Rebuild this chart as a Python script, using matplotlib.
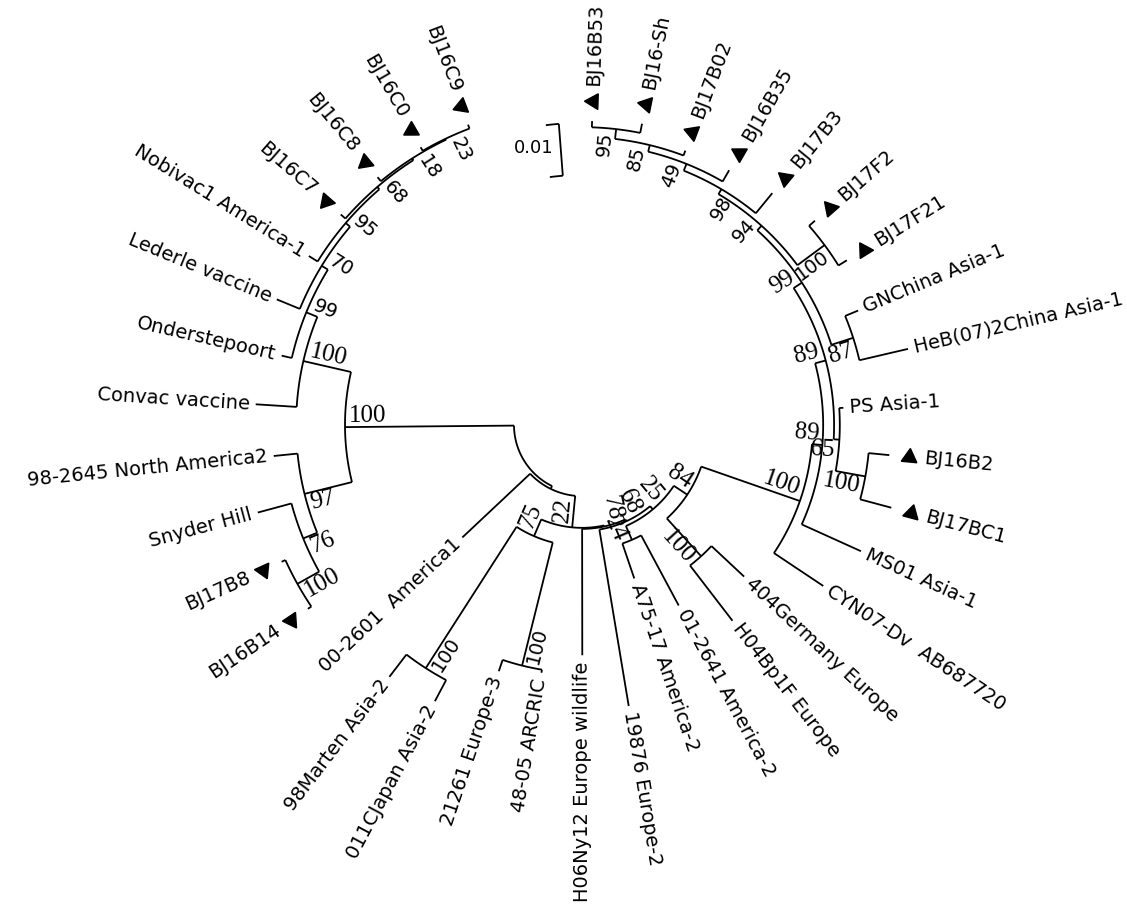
import numpy as np
import matplotlib
matplotlib.use("Agg")
import matplotlib.pyplot as plt

# ---------------- data ----------------
leaf_names = [
    "BJ16B53", "BJ16-Sh", "BJ17B02", "BJ16B35", "BJ17B3", "BJ17F2", "BJ17F21",
    "GNChina Asia-1", "HeB(07)2China Asia-1", "PS Asia-1", "BJ16B2", "BJ17BC1",
    "MS01 Asia-1", "CYN07-Dv  AB687720", "404Germany Europe", "H04Bp1F Europe",
    "01-2641 America-2", "A75-17 America-2", "19876 Europe-2",
    "H06Ny12 Europe wildlife", "48-05 ARCRIC", "21261 Europe-3",
    "011CJapan Asia-2", "98Marten Asia-2", "00-2601  America1", "BJ16B14",
    "BJ17B8", "Snyder Hill", "98-2645 North America2", "Convac vaccine",
    "Onderstepoort", "Lederle vaccine", "Nobivac1 America-1", "BJ16C7",
    "BJ16C8", "BJ16C0", "BJ16C9",
]
# distance of each tip from the root (substitutions/site)
leaf_dist = [
    0.0454, 0.0460, 0.0433, 0.0435, 0.0446, 0.0465, 0.0469,
    0.0444, 0.0513, 0.0373, 0.0463, 0.0485,
    0.0458, 0.0427, 0.0296, 0.0344,
    0.0263, 0.0181, 0.0417,
    0.0312, 0.0352, 0.0369,
    0.0471, 0.0479, 0.0185, 0.0504,
    0.0504, 0.0515, 0.0465, 0.0498,
    0.0462, 0.0504, 0.0487, 0.0485,
    0.0487, 0.0487, 0.0487,
]
leaf_marked = [n.startswith("BJ") for n in leaf_names]

# internal nodes: name, children (leaf index or node name), distance from root, bootstrap
node_names = ["root", "L", "V100", "V99", "V70", "V95", "V68", "V18", "V23",
              "N97", "N76", "NB", "R", "J22", "P75", "A2", "E3", "N78", "N68",
              "N25", "AM2", "N84", "EU", "A100", "X", "T", "Q2", "BB", "Tp",
              "GH", "S4", "FF", "S3", "S2", "S1", "BS"]
node_children = [
    ["L", "R"], ["V100", "N97"], [29, "V99"], [30, "V70"], [31, "V95"],
    [32, "V68"], [33, "V18"], [34, "V23"], [35, 36],
    [28, "N76"], [27, "NB"], [26, 25],
    [24, "J22"], ["P75", "N78"], ["A2", "E3"], [23, 22], [21, 20],
    [19, "N68"], [18, "N25"], ["AM2", "N84"], [17, 16], ["EU", "A100"],
    [15, 14], ["X", 13], ["T", 12], ["Tp", "Q2"], [9, "BB"], [10, 11],
    ["S4", "GH"], [7, 8], ["S3", "FF"], [5, 6], ["S2", 4], ["S1", 3],
    ["BS", 2], [0, 1],
]
node_dist = [
    0.0, 0.0325, 0.0419, 0.0442, 0.0456, 0.0467, 0.0473, 0.0477, 0.0479,
    0.0419, 0.0448, 0.0496,
    0.0006, 0.0067, 0.0102, 0.0425, 0.0346,
    0.0069, 0.0073, 0.0081, 0.0110, 0.0112,
    0.0210, 0.0313, 0.0333, 0.0354, 0.0365, 0.0423,
    0.0373, 0.0417, 0.0385, 0.0450, 0.0396, 0.0410,
    0.0423, 0.0442,
]
node_support = [
    None, 100, 100, 99, 70, 95, 68, 18, 23,
    97, 76, 100,
    None, 22, 75, 100, 100,
    78, 68, 25, 24, 84,
    100, 100, 89, 89, 65, 100,
    99, 87, 94, 100, 98, 49,
    85, 95,
]
scale_value = 0.01

# ---------------- style / layout ----------------
sans_support = {"V99", "V70", "V95", "V68", "V18", "V23", "A2", "E3",
                "S4", "FF", "S3", "S2", "S1", "BS"}
support_below = {"N97", "N76", "NB", "GH", "Q2", "BB", "EU", "S3", "FF",
                 "A2", "E3", "AM2"}

W, H = 1127, 909
CX, CY = 582, 425            # tree centre in pixels
PX_PER_UNIT = 52 / 0.01      # 0.01 substitutions = 52 px
R0_PX = 68                   # radius of the root
RMAX_PX = 400
U = 1.0 / PX_PER_UNIT        # data units per pixel
START_DEG, STEP_DEG = 88.1, 9.37

leaf_theta = np.radians(START_DEG - STEP_DEG * np.arange(len(leaf_names)))
idx = {n: i for i, n in enumerate(node_names)}


def angle(c):
    if isinstance(c, int):
        return leaf_theta[c]
    return float(np.mean([angle(k) for k in node_children[idx[c]]]))


def rad(c):
    if isinstance(c, int):
        return R0_PX * U + leaf_dist[c]
    return R0_PX * U + node_dist[idx[c]]


fig = plt.figure(figsize=(W / 100, H / 100), dpi=100)
fig.patch.set_facecolor("white")
ax = fig.add_axes([(CX - RMAX_PX) / W, (H - CY - RMAX_PX) / H,
                   2 * RMAX_PX / W, 2 * RMAX_PX / H], projection="polar")
ax.set_axis_off()

LW = 1.3
kw = dict(color="black", lw=LW, solid_capstyle="butt", clip_on=False)

for name, kids in zip(node_names, node_children):
    r = rad(name)
    ths = [angle(k) for k in kids]
    t = np.linspace(min(ths), max(ths), 80)
    ax.plot(t, np.full_like(t, r), **kw)
    for k in kids:
        a = angle(k)
        ax.plot([a, a], [r, rad(k)], **kw)


def right_side(th):
    return np.cos(th) > 0.02


# leaf labels and triangles
for i, name in enumerate(leaf_names):
    th = leaf_theta[i]
    deg = np.degrees(th)
    rt = rad(i)
    if leaf_marked[i]:
        ax.plot([th], [rt + 20 * U], marker=(3, 0, deg), ms=13, color="black",
                ls="none", clip_on=False)
        rl = rt + 35 * U
    else:
        rl = rt + 6 * U
    if right_side(th):
        ax.text(th, rl, name, rotation=deg, rotation_mode="anchor",
                ha="left", va="center", fontsize=14, family="DejaVu Sans")
    else:
        ax.text(th, rl, name, rotation=deg + 180, rotation_mode="anchor",
                ha="right", va="center", fontsize=14, family="DejaVu Sans")

# bootstrap values
for name, sup in zip(node_names, node_support):
    if sup is None:
        continue
    th = angle(name)
    deg = np.degrees(th)
    r = rad(name) - 4 * U
    if name in sans_support:
        fam, fs = "DejaVu Sans", 14
    else:
        fam, fs = "Liberation Serif", 18
    va = "top" if name in support_below else "bottom"
    if right_side(th):
        ax.text(th, r, str(sup), rotation=deg, rotation_mode="anchor",
                ha="right", va=va, fontsize=fs, family=fam)
    else:
        ax.text(th, r, str(sup), rotation=deg + 180, rotation_mode="anchor",
                ha="left", va=va, fontsize=fs, family=fam)

# scale bar (radial, near the top)
sb_th = np.radians(94.4)
sb_r0 = 250 * U
sb_r1 = sb_r0 + scale_value
ax.plot([sb_th, sb_th], [sb_r0, sb_r1], **kw)
for rr in (sb_r0, sb_r1):
    dt = 13 * U / rr
    t = np.linspace(sb_th, sb_th + dt, 5)
    ax.plot(t, np.full_like(t, rr), **kw)
ax.text(np.radians(100.0), 281 * U, "0.01", ha="center", va="center",
        fontsize=13, family="DejaVu Sans")

ax.set_rlim(0, RMAX_PX * U)
fig.savefig("out.png", dpi=100, facecolor="white")
